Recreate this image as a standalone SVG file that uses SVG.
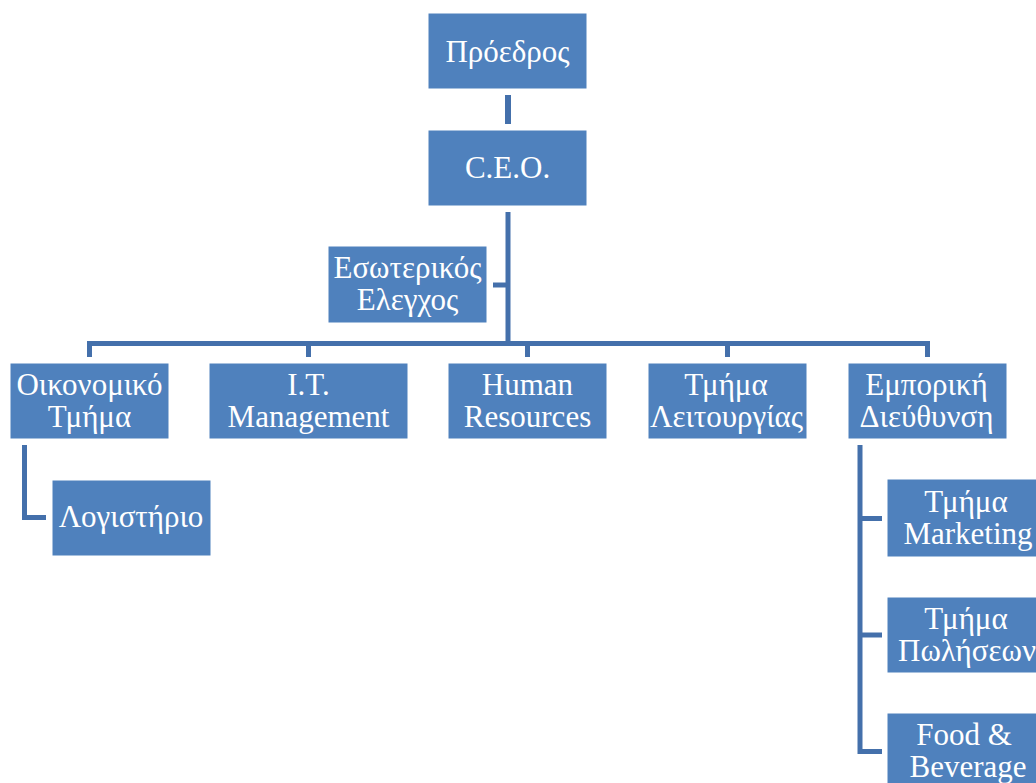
<svg xmlns="http://www.w3.org/2000/svg" width="1036" height="783" viewBox="0 0 1036 783">
<style>
.box{fill:#4F81BD;stroke:#ffffff;stroke-width:1}
.t{font-family:"Liberation Serif","Times New Roman",serif;font-size:31px;fill:#ffffff;text-anchor:middle}
.c{fill:none;stroke:#4470AB;stroke-width:5;stroke-linejoin:miter;stroke-linecap:butt}
</style>
<rect width="1036" height="783" fill="#ffffff"/>
<g id="connectors">
<path class="c" d="M508 95V124" style="stroke-width:6"/>
<path class="c" d="M508 212V346"/>
<path class="c" d="M493 285H508"/>
<path class="c" d="M89.5 357V343.5H927.5V357"/>
<path class="c" d="M308.5 343.5V357"/>
<path class="c" d="M527.5 343.5V357"/>
<path class="c" d="M727.5 343.5V357"/>
<path class="c" d="M24.5 445V517.5H46"/>
<path class="c" d="M860 445V751.5H882"/>
<path class="c" d="M860 518.5H882"/>
<path class="c" d="M860 635H882"/>
</g>
<g id="proedros"><rect class="box" x="428" y="13" width="159" height="76"/><text class="t" x="507.5" y="62">Πρόεδρος</text></g>
<g id="ceo"><rect class="box" x="428" y="130" width="159" height="76"/><text class="t" x="507.5" y="178">C.E.O.</text></g>
<g id="esoterikos"><rect class="box" x="328" y="246" width="159" height="77"/><text class="t" x="407.5" y="278">Εσωτερικός</text><text class="t" x="407.5" y="310">Ελεγχος</text></g>
<g id="oikonomiko"><rect class="box" x="10" y="363" width="159" height="76"/><text class="t" x="89.5" y="395">Οικονομικό</text><text class="t" x="89.5" y="427">Τμήμα</text></g>
<g id="it"><rect class="box" x="209" y="363" width="199" height="76"/><text class="t" x="308.5" y="395">I.T.</text><text class="t" x="308.5" y="427">Management</text></g>
<g id="hr"><rect class="box" x="448" y="363" width="159" height="76"/><text class="t" x="527.5" y="395">Human</text><text class="t" x="527.5" y="427">Resources</text></g>
<g id="leitourgias"><rect class="box" x="648" y="363" width="159" height="76"/><text class="t" x="726" y="395">Τμήμα</text><text class="t" x="726.5" y="427">Λειτουργίας</text></g>
<g id="emporiki"><rect class="box" x="848" y="363" width="159" height="76"/><text class="t" x="926.5" y="395">Εμπορική</text><text class="t" x="926.5" y="427">Διεύθυνση</text></g>
<g id="logistirio"><rect class="box" x="52" y="480" width="159" height="76"/><text class="t" x="131" y="527">Λογιστήριο</text></g>
<g id="marketing"><rect class="box" x="887" y="479" width="159" height="78"/><text class="t" x="966" y="512">Τμήμα</text><text class="t" x="968" y="544">Marketing</text></g>
<g id="poliseon"><rect class="box" x="887" y="597" width="159" height="76"/><text class="t" x="966" y="629">Τμήμα</text><text class="t" x="967" y="661">Πωλήσεων</text></g>
<g id="food"><rect class="box" x="887" y="713" width="159" height="76"/><text class="t" x="964" y="745">Food &amp;</text><text class="t" x="968" y="777">Beverage</text></g>
</svg>
